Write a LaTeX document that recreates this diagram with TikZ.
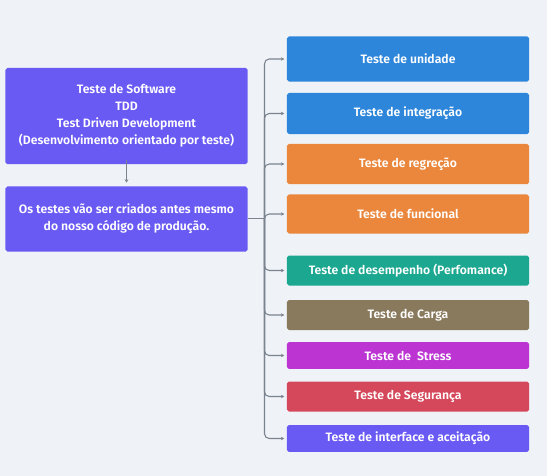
\documentclass[tikz,border=0pt]{standalone}
\usepackage{fontspec}
\setmainfont{Fira Sans}[UprightFont=* SemiBold, BoldFont=* Bold]
\usetikzlibrary{arrows.meta,positioning}
\definecolor{bgc}{HTML}{EFF3F7}
\definecolor{indigo}{HTML}{6A5AF4}
\definecolor{azul}{HTML}{2E86DA}
\definecolor{laranja}{HTML}{EA873D}
\definecolor{verde}{HTML}{1BA790}
\definecolor{marrom}{HTML}{8A7A5D}
\definecolor{roxo}{HTML}{BC35D3}
\definecolor{vermelho}{HTML}{D5475A}
\definecolor{linha}{HTML}{7B838F}

\begin{document}
\begin{tikzpicture}[x=0.03cm,y=-0.03cm,font=\fontsize{10.4}{14.6}\selectfont,
  topico/.style={rounded corners=1.5pt,text=white,align=center,inner sep=0pt,minimum width=7.26cm},
  ramo/.style={draw=linha,line width=0.9pt,rounded corners=4pt,-{Stealth[length=3pt,width=3pt]}}]
  \fill[bgc] (0,0) rectangle (547,476);
  \node[topico,fill=indigo,minimum height=2.88cm] (tdd) at (126.5,116) {Teste de Software\\TDD\\Test Driven Development\\(Desenvolvimento orientado por teste)};
  \node[topico,fill=indigo,minimum height=1.95cm] (ideia) at (126.5,219) {Os testes vão ser criados antes mesmo\\do nosso código de produção.};
  \node[topico,fill=azul,minimum height=1.35cm] (t1) at (408,59) {Teste de unidade};
  \node[topico,fill=azul,minimum height=1.23cm] (t2) at (408,113.5) {Teste de integração};
  \node[topico,fill=laranja,minimum height=1.2cm] (t3) at (408,164) {Teste de regreção};
  \node[topico,fill=laranja,minimum height=1.17cm] (t4) at (408,214) {Teste de funcional};
  \node[topico,fill=verde,minimum height=0.9cm] (t5) at (408,270.5) {Teste de desempenho (Perfomance)};
  \node[topico,fill=marrom,minimum height=0.9cm] (t6) at (408,315) {Teste de Carga};
  \node[topico,fill=roxo,minimum height=0.8cm] (t7) at (408,355.5) {Teste de\ \ Stress};
  \node[topico,fill=vermelho,minimum height=0.9cm] (t8) at (408,396.5) {Teste de Segurança};
  \node[topico,fill=indigo,minimum height=0.8cm] (t9) at (408,438.5) {Teste de interface e aceitação};
  \coordinate (hub) at (264.5,218.5);
  \draw[linha,line width=0.9pt,-{Stealth[length=3pt,width=3pt]}] (tdd.south) ++(0,-4) -- ([yshift=3pt]ideia.north);
  \draw[linha,line width=1.2pt] (ideia.east|-hub) -- (hub);
  \foreach \t in {t1,t2,t3,t4,t5,t6,t7,t8,t9}
    \draw[ramo] (hub) |- ([xshift=-2pt]\t.west);
\end{tikzpicture}
\end{document}
